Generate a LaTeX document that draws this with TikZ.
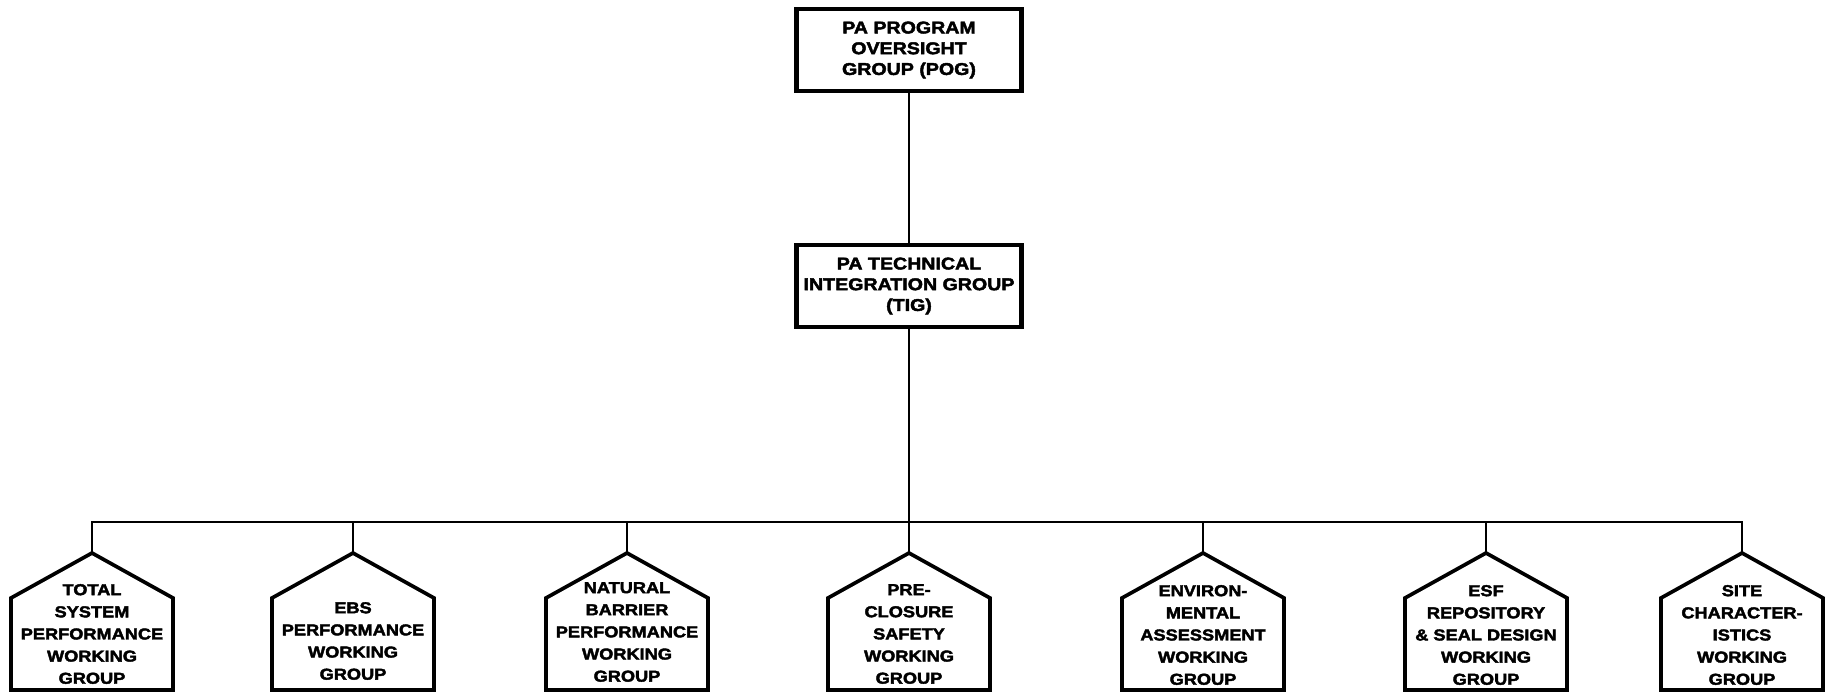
\documentclass[tikz,border=0pt]{standalone}
\usepackage{fontspec}
\usepackage{tikz}
\usetikzlibrary{
    calc,
    positioning
}
\newfontfamily\orgfont{Liberation Sans}[FakeStretch=1.15, BoldFeatures={FakeBold=2.5}]
\tikzset{orgbox/.style={rectangle, draw=black, line width=2.6pt, fill=white, minimum width=4.5cm, minimum height=1.64cm, inner sep=0pt, align=center, font=\orgfont\bfseries\fontsize{9.7}{11.8}\selectfont}}
\tikzset{wgtext/.style={inner sep=0pt, align=center, font=\orgfont\bfseries\fontsize{9}{12.6}\selectfont}}
\tikzset{house/.style={draw=black, line width=2.1pt, line join=miter}}
\tikzset{link/.style={draw=black, line width=1.6pt}}

\begin{document}
\begin{tikzpicture}[x=0.02cm, y=-0.02cm]
                        \useasboundingbox (0, 0) rectangle (1828, 693);

                        \node[orgbox] (pog) at (909, 50) {PA PROGRAM\\OVERSIGHT\\GROUP (POG)};
                        \node[orgbox] (tig) at (909, 286) {PA TECHNICAL\\INTEGRATION GROUP\\(TIG)};
                        \coordinate (bus) at (909, 522);

                        % roof tops of the working groups
                        \coordinate (tsp-top) at (92, 553);
                        \coordinate (ebs-top) at (353, 553);
                        \coordinate (nbp-top) at (627, 553);
                        \coordinate (pcs-top) at (909, 553);
                        \coordinate (env-top) at (1203, 553);
                        \coordinate (esf-top) at (1486, 553);
                        \coordinate (sc-top) at (1742, 553);

                        \node[wgtext] (tsp) at (92, 634) {TOTAL\\SYSTEM\\PERFORMANCE\\WORKING\\GROUP};
                        \node[wgtext] (ebs) at (353, 641) {EBS\\PERFORMANCE\\WORKING\\GROUP};
                        \node[wgtext] (nbp) at (627, 632) {NATURAL\\BARRIER\\PERFORMANCE\\WORKING\\GROUP};
                        \node[wgtext] (pcs) at (909, 634) {PRE-\\CLOSURE\\SAFETY\\WORKING\\GROUP};
                        \node[wgtext] (env) at (1203, 635) {ENVIRON-\\MENTAL\\ASSESSMENT\\WORKING\\GROUP};
                        \node[wgtext] (esf) at (1486, 635) {ESF\\REPOSITORY\\\& SEAL DESIGN\\WORKING\\GROUP};
                        \node[wgtext] (sc) at (1742, 635) {SITE\\CHARACTER-\\ISTICS\\WORKING\\GROUP};

                        \foreach \g in {tsp, ebs, nbp, pcs, env, esf, sc} {
                            \draw[house] (\g-top) -- ++(81, 45) -- ++(0, 92) -- ++(-162, 0) -- ++(0, -92) -- cycle;
                            \draw[link] (bus) -| (\g-top);
                        }

                        \draw[link]
                        (pog) -- (tig)
                        (tig) -- (bus);
                    \end{tikzpicture}
\end{document}
